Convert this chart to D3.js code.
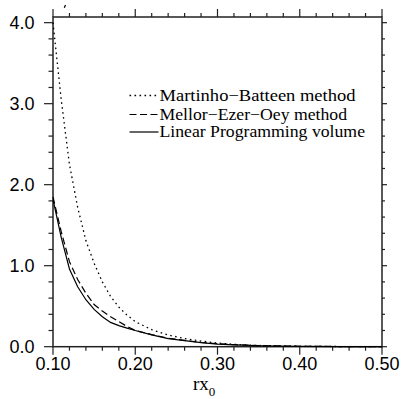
<!DOCTYPE html>
<html><head><meta charset="utf-8">
<script src="https://cdn.jsdelivr.net/npm/d3@7"></script>
<style>html,body{margin:0;padding:0;background:#fff;}svg{display:block;}</style>
</head><body>
<script>
// ---- data ----
const xMartinho = [0.10,0.11,0.12,0.13,0.14,0.15,0.16,0.17,0.18,0.19,0.20,0.22,0.24,0.26,0.28,0.30,0.32,0.35,0.40,0.45,0.50];
const yMartinho = [4.00,3.05,2.25,1.72,1.31,1.03,0.80,0.62,0.49,0.39,0.31,0.21,0.145,0.10,0.07,0.045,0.03,0.015,0.005,0.002,0.0];
const xMellor = [0.10,0.11,0.12,0.13,0.14,0.15,0.16,0.17,0.18,0.19,0.20,0.22,0.24,0.26,0.28,0.30,0.32,0.35,0.40,0.45,0.50];
const yMellor = [1.85,1.42,1.05,0.83,0.66,0.52,0.44,0.37,0.31,0.25,0.20,0.15,0.105,0.078,0.052,0.036,0.025,0.014,0.005,0.002,0.0];
const xLinear = [0.10,0.11,0.12,0.13,0.14,0.15,0.16,0.17,0.18,0.19,0.20,0.22,0.24,0.26,0.28,0.30,0.32,0.35,0.40,0.45,0.50];
const yLinear = [1.82,1.35,0.96,0.74,0.58,0.46,0.37,0.30,0.26,0.23,0.20,0.145,0.10,0.075,0.05,0.033,0.022,0.012,0.004,0.001,0.0];
const seriesNames = ["Martinho\u2212Batteen method","Mellor\u2212Ezer\u2212Oey method","Linear Programming volume"];
const xTickLabels = ["0.10","0.20","0.30","0.40","0.50"];
const yTickLabels = ["0.0","1.0","2.0","3.0","4.0"];
const xAxisLabel = "rx";
const xAxisSub = "0";

// ---- layout ----
const W = 402, H = 399;
const L = 53, R = 382, T = 17, B = 346.7;
const svg = d3.select("body").append("svg").attr("width", W).attr("height", H);

const x = d3.scaleLinear().domain([0.10, 0.50]).range([L, R]);
const y = d3.scaleLinear().domain([0, 4.07]).range([B, T]);

const xMajor = xTickLabels.map(Number);
const yMajor = yTickLabels.map(Number);
const xMinor = d3.range(0, 21).map(i => 0.10 + i * 0.02).filter(v => !xMajor.some(m => Math.abs(m - v) < 1e-9));
const yMinor = d3.range(0, 21).map(i => i * 0.2).filter(v => v <= 4.07 && !yMajor.some(m => Math.abs(m - v) < 1e-9));

const axisColor = "#222";
const g = svg.append("g");

function addTicks(vals, len, side) {
  vals.forEach(v => {
    let x1, y1, x2, y2;
    if (side === "bottom") { x1 = x2 = x(v); y1 = B; y2 = B + len; }
    if (side === "top") { x1 = x2 = x(v); y1 = T; y2 = T - len; }
    if (side === "left") { y1 = y2 = y(v); x1 = L; x2 = L - len; }
    if (side === "right") { y1 = y2 = y(v); x1 = R; x2 = R + len; }
    g.append("line").attr("x1", x1).attr("y1", y1).attr("x2", x2).attr("y2", y2)
      .attr("stroke", axisColor).attr("stroke-width", 1.2);
  });
}
addTicks(xMajor, 8, "bottom"); addTicks(xMinor, 4, "bottom");
addTicks(xMajor, 8, "top"); addTicks(xMinor, 4, "top");
addTicks(yMajor, 9, "left"); addTicks(yMinor, 4.5, "left");
addTicks(yMajor, 5, "right"); addTicks(yMinor, 3, "right");

g.append("rect").attr("x", L).attr("y", T).attr("width", R - L).attr("height", B - T)
  .attr("fill", "none").attr("stroke", axisColor).attr("stroke-width", 1.5);

g.selectAll(".xl").data(xTickLabels).enter().append("text")
  .attr("x", d => x(+d)).attr("y", 370).attr("text-anchor", "middle")
  .attr("font-family", "Liberation Sans, Arial, sans-serif").attr("font-size", 18)
  .attr("fill", "#000").text(d => d);
g.selectAll(".yl").data(yTickLabels).enter().append("text")
  .attr("x", 34.5).attr("y", d => y(+d) + 6).attr("text-anchor", "end")
  .attr("font-family", "Liberation Sans, Arial, sans-serif").attr("font-size", 18)
  .attr("fill", "#000").text(d => d);

const tt = g.append("text").attr("x", 193).attr("y", 390)
  .attr("font-family", "Liberation Serif, Times New Roman, serif").attr("font-size", 19).attr("fill", "#000");
tt.append("tspan").text(xAxisLabel);
tt.append("tspan").attr("font-size", 13).attr("dy", 6).text(xAxisSub);

g.append("line").attr("x1", 65.5).attr("y1", 5).attr("x2", 64.3).attr("y2", 7.8)
  .attr("stroke", "#000").attr("stroke-width", 1.2);

const styles = [
  { xs: xMartinho, ys: yMartinho, dash: "1.6,3.4", w: 1.3 },
  { xs: xMellor, ys: yMellor, dash: "7,3.5", w: 1.2 },
  { xs: xLinear, ys: yLinear, dash: null, w: 1.2 }
];
const line = d3.line().x(d => x(d[0])).y(d => y(d[1]));
styles.forEach(s => {
  const pts = s.xs.map((v, i) => [v, s.ys[i]]);
  const p = svg.append("path").attr("d", line(pts)).attr("fill", "none")
    .attr("stroke", "#000").attr("stroke-width", s.w);
  if (s.dash) p.attr("stroke-dasharray", s.dash);
});

const legY = [100.5, 119.5, 137];
const legW = [196, 187.5, 205.5];
seriesNames.forEach((name, i) => {
  const s = styles[i];
  const ln = svg.append("line").attr("x1", 129.5).attr("x2", 158.5)
    .attr("y1", legY[i] - 5).attr("y2", legY[i] - 5)
    .attr("stroke", "#000").attr("stroke-width", s.w);
  if (s.dash) ln.attr("stroke-dasharray", s.dash);
  svg.append("text").attr("x", 159.5).attr("y", legY[i])
    .attr("font-family", "Liberation Serif, Times New Roman, serif").attr("font-size", 16)
    .attr("textLength", legW[i]).attr("lengthAdjust", "spacingAndGlyphs")
    .attr("fill", "#000").text(name);
});
</script>
</body></html>
